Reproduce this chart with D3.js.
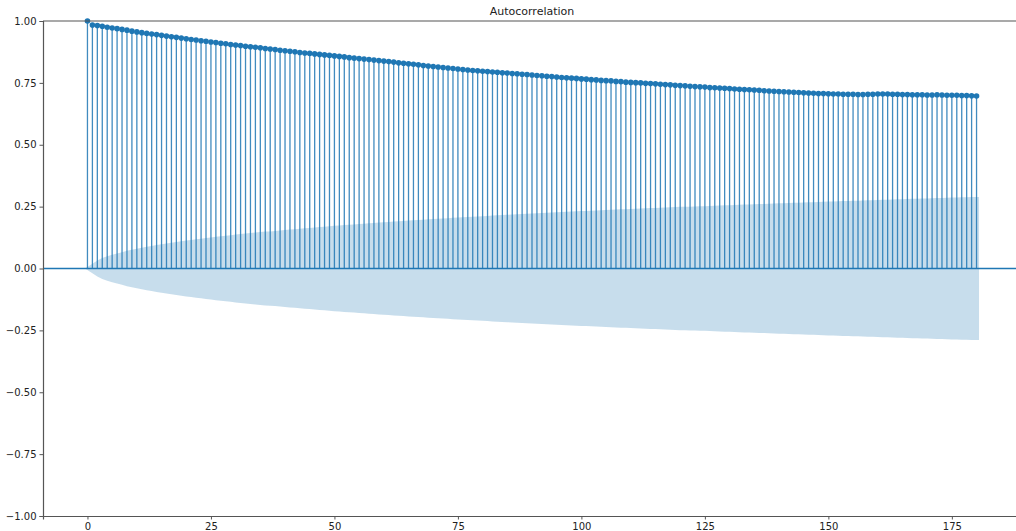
<!DOCTYPE html>
<html>
<head>
<meta charset="utf-8">
<script src="https://cdn.jsdelivr.net/npm/d3@7"></script>
<style>
  body { margin: 0; background: #fff; }
  svg { display: block; font-family: "DejaVu Sans", sans-serif; }
</style>
</head>
<body>
<script>
// autocorrelation per lag, lag 0 .. 180
var acfValues = [
  1.000, 0.984, 0.982, 0.979, 0.975, 0.972, 0.969, 0.966, 0.963, 0.959,
  0.956, 0.953, 0.950, 0.947, 0.945, 0.942, 0.939, 0.936, 0.934, 0.931,
  0.928, 0.925, 0.923, 0.920, 0.918, 0.915, 0.913, 0.910, 0.908, 0.905,
  0.903, 0.901, 0.898, 0.896, 0.894, 0.892, 0.889, 0.887, 0.885, 0.882,
  0.880, 0.878, 0.876, 0.873, 0.871, 0.869, 0.867, 0.865, 0.863, 0.861,
  0.859, 0.857, 0.855, 0.852, 0.850, 0.848, 0.846, 0.844, 0.842, 0.840,
  0.838, 0.836, 0.834, 0.831, 0.829, 0.827, 0.825, 0.823, 0.820, 0.818,
  0.816, 0.814, 0.812, 0.810, 0.808, 0.806, 0.804, 0.802, 0.800, 0.799,
  0.797, 0.796, 0.794, 0.793, 0.791, 0.790, 0.788, 0.787, 0.785, 0.784,
  0.782, 0.780, 0.779, 0.777, 0.776, 0.774, 0.772, 0.771, 0.769, 0.768,
  0.766, 0.765, 0.763, 0.762, 0.760, 0.759, 0.758, 0.756, 0.755, 0.753,
  0.752, 0.751, 0.750, 0.748, 0.747, 0.746, 0.744, 0.743, 0.742, 0.740,
  0.739, 0.738, 0.736, 0.735, 0.734, 0.733, 0.731, 0.730, 0.729, 0.728,
  0.727, 0.725, 0.724, 0.723, 0.722, 0.721, 0.720, 0.718, 0.717, 0.716,
  0.715, 0.714, 0.713, 0.712, 0.711, 0.710, 0.709, 0.708, 0.707, 0.707,
  0.706, 0.705, 0.705, 0.704, 0.704, 0.704, 0.703, 0.703, 0.704, 0.704,
  0.705, 0.705, 0.705, 0.704, 0.704, 0.703, 0.703, 0.702, 0.702, 0.702,
  0.701, 0.701, 0.702, 0.701, 0.700, 0.700, 0.700, 0.699, 0.699, 0.698,
  0.697
];

// half width of the confidence band per lag (lag 0 .. 180)
var bandValues = [
  0.000, 0.019, 0.032, 0.042, 0.049, 0.056, 0.061, 0.066, 0.072, 0.076,
  0.080, 0.084, 0.088, 0.091, 0.095, 0.098, 0.101, 0.104, 0.107, 0.110,
  0.113, 0.115, 0.118, 0.120, 0.123, 0.125, 0.128, 0.130, 0.132, 0.134,
  0.137, 0.139, 0.141, 0.143, 0.145, 0.147, 0.149, 0.150, 0.152, 0.154,
  0.156, 0.158, 0.159, 0.161, 0.163, 0.164, 0.166, 0.168, 0.169, 0.171,
  0.173, 0.174, 0.176, 0.177, 0.178, 0.180, 0.181, 0.183, 0.184, 0.186,
  0.187, 0.188, 0.190, 0.191, 0.192, 0.194, 0.195, 0.196, 0.197, 0.199,
  0.200, 0.201, 0.202, 0.203, 0.205, 0.206, 0.207, 0.208, 0.209, 0.210,
  0.211, 0.212, 0.214, 0.215, 0.216, 0.217, 0.218, 0.219, 0.220, 0.221,
  0.222, 0.223, 0.224, 0.225, 0.226, 0.227, 0.228, 0.229, 0.230, 0.231,
  0.232, 0.232, 0.233, 0.234, 0.235, 0.236, 0.237, 0.238, 0.239, 0.239,
  0.240, 0.241, 0.242, 0.243, 0.244, 0.244, 0.245, 0.246, 0.247, 0.248,
  0.249, 0.249, 0.250, 0.251, 0.252, 0.252, 0.253, 0.254, 0.255, 0.256,
  0.256, 0.257, 0.258, 0.259, 0.259, 0.260, 0.261, 0.261, 0.262, 0.263,
  0.264, 0.264, 0.265, 0.266, 0.266, 0.267, 0.268, 0.268, 0.269, 0.270,
  0.271, 0.271, 0.272, 0.273, 0.273, 0.274, 0.274, 0.275, 0.276, 0.276,
  0.277, 0.278, 0.278, 0.279, 0.280, 0.280, 0.281, 0.282, 0.282, 0.283,
  0.283, 0.284, 0.285, 0.285, 0.286, 0.287, 0.287, 0.288, 0.288, 0.289,
  0.289
];

var xTicks = [0, 25, 50, 75, 100, 125, 150, 175];
var yTicks = [-1.00, -0.75, -0.50, -0.25, 0.00, 0.25, 0.50, 0.75, 1.00];
var title = "Autocorrelation";

const width = 1016;
const height = 531;
const blue = "#1f77b4";

var svg = d3.select("body")
            .append("svg")
            .attr("width", width)
            .attr("height", height);

// the axes run past the right edge of the picture, like the original
var x = d3.scaleLinear()
          .domain([-9, 189])
          .range([43, 1021]);

var y = d3.scaleLinear()
          .domain([-1, 1])
          .range([516, 21]);

var lags = acfValues.map(function (d, i) { return i; });

// confidence band, first and last lag pushed out by half a step
var bandLag = function (i) {
  if (i === 0) { return -0.5; }
  if (i === lags.length - 1) { return i + 0.5; }
  return i;
};

var area = d3.area()
             .x(function (d, i) { return x(bandLag(i)); })
             .y0(function (d) { return y(-d); })
             .y1(function (d) { return y(d); });

svg.append("path")
   .datum(bandValues)
   .attr("d", area)
   .attr("fill", blue)
   .attr("fill-opacity", 0.25);

// zero line
svg.append("line")
   .attr("x1", x(-9))
   .attr("x2", x(189))
   .attr("y1", y(0))
   .attr("y2", y(0))
   .attr("stroke", blue)
   .attr("stroke-width", 1.5);

// stems
svg.selectAll("line.stem")
   .data(acfValues)
   .enter()
   .append("line")
   .attr("class", "stem")
   .attr("x1", function (d, i) { return x(i); })
   .attr("x2", function (d, i) { return x(i); })
   .attr("y1", y(0))
   .attr("y2", function (d) { return y(d); })
   .attr("stroke", blue)
   .attr("stroke-opacity", 0.85)
   .attr("stroke-width", 1.3);

// markers
svg.selectAll("circle.marker")
   .data(acfValues)
   .enter()
   .append("circle")
   .attr("class", "marker")
   .attr("cx", function (d, i) { return x(i); })
   .attr("cy", function (d) { return y(d); })
   .attr("r", 2.8)
   .attr("fill", blue);

// axes
var fmtY = function (d) { return d3.format(".2f")(d).replace("-", "\u2212"); };

var xAxis = svg.append("g")
               .attr("transform", "translate(0," + y(-1) + ")")
               .call(d3.axisBottom(x).tickValues(xTicks).tickSize(3.5).tickPadding(3).tickFormat(d3.format("d")));

var yAxis = svg.append("g")
               .attr("transform", "translate(" + x(-9) + ",0)")
               .call(d3.axisLeft(y).tickValues(yTicks).tickSize(3.5).tickPadding(3).tickFormat(fmtY));

[xAxis, yAxis].forEach(function (g) {
  g.select(".domain").attr("stroke", "#555").attr("stroke-width", 1.2);
  g.selectAll(".tick line").attr("stroke", "#555").attr("stroke-width", 1);
  g.selectAll(".tick text").attr("fill", "#222").attr("font-size", "10px").attr("font-family", "DejaVu Sans, sans-serif");
});

// top spine
svg.append("line")
   .attr("x1", x(-9))
   .attr("x2", x(189))
   .attr("y1", y(1))
   .attr("y2", y(1))
   .attr("stroke", "#555")
   .attr("stroke-width", 1.2);

svg.append("text")
   .attr("x", (x(-9) + x(189)) / 2)
   .attr("y", 15)
   .attr("text-anchor", "middle")
   .attr("font-size", "11px")
   .attr("fill", "#222")
   .text(title);
</script>
</body>
</html>
